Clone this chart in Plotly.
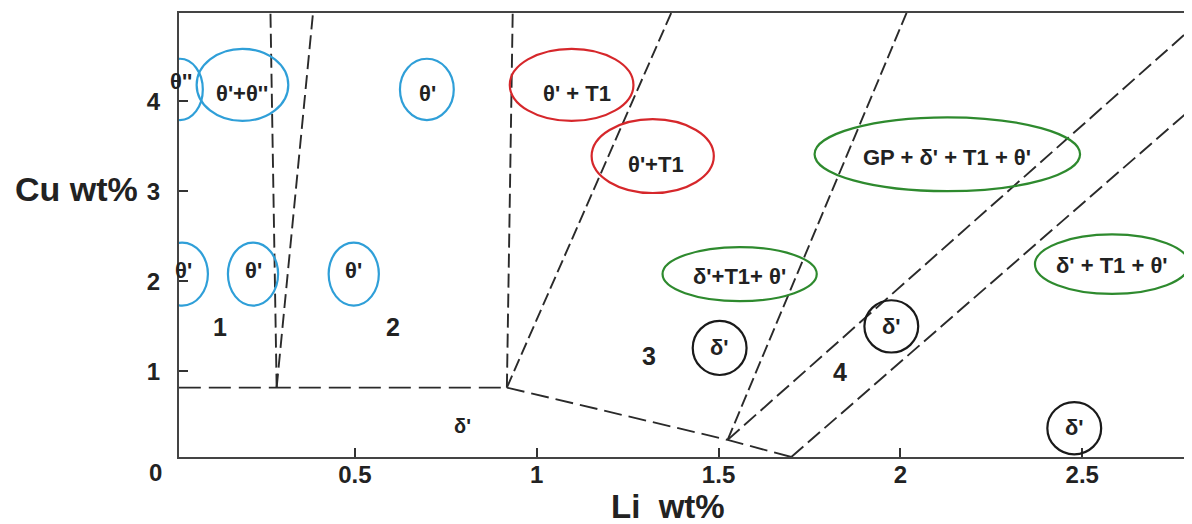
import plotly.graph_objects as go

# ---------------- data (data coordinates: Li wt%, Cu wt%) ----------------
# phase boundary lines (dashed)
boundary_x = [
    [0.016, 0.918],
    [0.285, 0.268],
    [0.285, 0.385],
    [0.918, 0.934],
    [0.918, 1.37],
    [0.918, 1.525, 1.70],
    [1.525, 2.017],
    [1.525, 2.79],
    [1.70, 2.79],
]
boundary_y = [
    [0.82, 0.82],
    [0.82, 4.98],
    [0.82, 4.98],
    [0.82, 4.98],
    [0.82, 4.98],
    [0.82, 0.24, 0.05],
    [0.24, 4.98],
    [0.24, 4.77],
    [0.05, 3.88],
]
boundary_dash = ["22px,8px", "14px,6px", "14px,6px", "14px,6px", "13px,5px",
                 "18px,7px", "13px,5px", "16px,6px", "16px,6px"]

# phase labels inside ellipses
phase_text = ["θ''", "θ'+θ''", "θ'", "θ' + T1", "θ'+T1", "GP + δ' + T1 + θ'",
              "δ'+T1+ θ'", "δ' + T1 + θ'", "θ'", "θ'", "θ'", "δ'", "δ'", "δ'"]
phase_x = [0.022, 0.191, 0.700, 1.110, 1.329, 2.129,
           1.558, 2.582, 0.028, 0.220, 0.497, 1.503, 1.975, 2.478]
phase_y = [4.22, 4.08, 4.08, 4.08, 3.30, 3.37,
           2.05, 2.18, 2.12, 2.12, 2.12, 1.26, 1.50, 0.38]
phase_group = ["theta", "theta", "theta", "t1", "t1", "mix",
               "mix", "mix", "theta", "theta", "theta", "delta", "delta", "delta"]
# ellipse centres and half-axes
ell_x = [0.019, 0.191, 0.698, 1.096, 1.319, 2.129,
         1.558, 2.582, 0.025, 0.220, 0.497, 1.503, 1.975, 2.478]
ell_y = [4.13, 4.18, 4.13, 4.18, 3.39, 3.41,
         2.08, 2.19, 2.08, 2.08, 2.08, 1.26, 1.50, 0.37]
ell_rx = [0.063, 0.126, 0.074, 0.170, 0.168, 0.365,
          0.212, 0.212, 0.071, 0.069, 0.069, 0.074, 0.074, 0.074]
ell_ry = [0.34, 0.40, 0.34, 0.40, 0.41, 0.41,
          0.30, 0.33, 0.35, 0.35, 0.35, 0.30, 0.29, 0.29]

# region numbers
region_text = ["1", "2", "3", "4", "δ'"]
region_x = [0.129, 0.605, 1.310, 1.835, 0.797]
region_y = [1.49, 1.49, 1.17, 0.99, 0.39]

x_ticks = [0.5, 1, 1.5, 2, 2.5]
x_tick_text = ["0.5", "1", "1.5", "2", "2.5"]
y_ticks = [1, 2, 3, 4]
y_tick_text = ["1", "2", "3", "4"]

group_color = {"theta": "#2f9fd8", "t1": "#d6272b", "mix": "#2e8a2e", "delta": "#1a1a1a"}
FONT = "Liberation Sans"
INK = "#222222"

fig = go.Figure()
for xs, ys, d in zip(boundary_x, boundary_y, boundary_dash):
    fig.add_trace(go.Scatter(x=xs, y=ys, mode="lines",
                             line=dict(color="#2a2a2a", width=1.9, dash=d),
                             hoverinfo="skip", showlegend=False))

for cx, cy, rx, ry, g in zip(ell_x, ell_y, ell_rx, ell_ry, phase_group):
    fig.add_shape(type="circle", xref="x", yref="y",
                  x0=cx - rx, x1=cx + rx, y0=cy - ry, y1=cy + ry,
                  line=dict(color=group_color[g], width=2.2))

for t, x, y in zip(phase_text, phase_x, phase_y):
    fig.add_annotation(x=x, y=y, xref="x", yref="y", text="<b>" + t + "</b>",
                       showarrow=False,
                       font=dict(family=FONT, size=22, color=INK))

for t, x, y in zip(region_text, region_x, region_y):
    size = 25 if t != "δ'" else 20
    fig.add_annotation(x=x, y=y, xref="x", yref="y", text="<b>" + t + "</b>",
                       showarrow=False,
                       font=dict(family=FONT, size=size, color=INK))

# origin label, axis titles (pixel offsets from the plot-area corners)
fig.add_annotation(x=0, y=0, xref="paper", yref="paper", text="<b>0</b>",
                   showarrow=False, xshift=-24, yshift=-15,
                   xanchor="center", yanchor="middle",
                   font=dict(family=FONT, size=24, color=INK))
fig.add_annotation(x=0, y=1, xref="paper", yref="paper", text="<b>Cu wt%</b>",
                   showarrow=False, xshift=-103, yshift=-176,
                   xanchor="center", yanchor="middle",
                   font=dict(family=FONT, size=34, color=INK))
fig.add_annotation(x=0, y=0, xref="paper", yref="paper", text="<b>Li  wt%</b>",
                   showarrow=False, xshift=489, yshift=-49,
                   xanchor="center", yanchor="middle",
                   font=dict(family=FONT, size=33, color=INK))

# the page adds an 8px body margin, so the figure is sized 8px smaller
fig.update_layout(
    width=1184, height=516,
    margin=dict(l=171, r=4, t=3, b=67),
    paper_bgcolor="white", plot_bgcolor="white",
    showlegend=False,
    font=dict(family=FONT, color=INK),
    xaxis=dict(range=[0.0165, 2.788], tickvals=x_ticks, ticktext=x_tick_text,
               ticks="inside", ticklen=9, tickwidth=1.5, tickcolor="#333333",
               showgrid=False, zeroline=False, showline=True, linecolor="#444444",
               linewidth=2, mirror=True, ticklabelstandoff=-5,
               tickfont=dict(family=FONT, size=24, color=INK, weight="bold")),
    yaxis=dict(range=[0.05, 4.978], tickvals=y_ticks, ticktext=y_tick_text,
               ticks="inside", ticklen=9, tickwidth=1.5, tickcolor="#333333",
               showgrid=False, zeroline=False, showline=True, linecolor="#444444",
               linewidth=2, mirror=True, ticklabelstandoff=12,
               tickfont=dict(family=FONT, size=24, color=INK, weight="bold")),
)

fig.write_html("out.html")
